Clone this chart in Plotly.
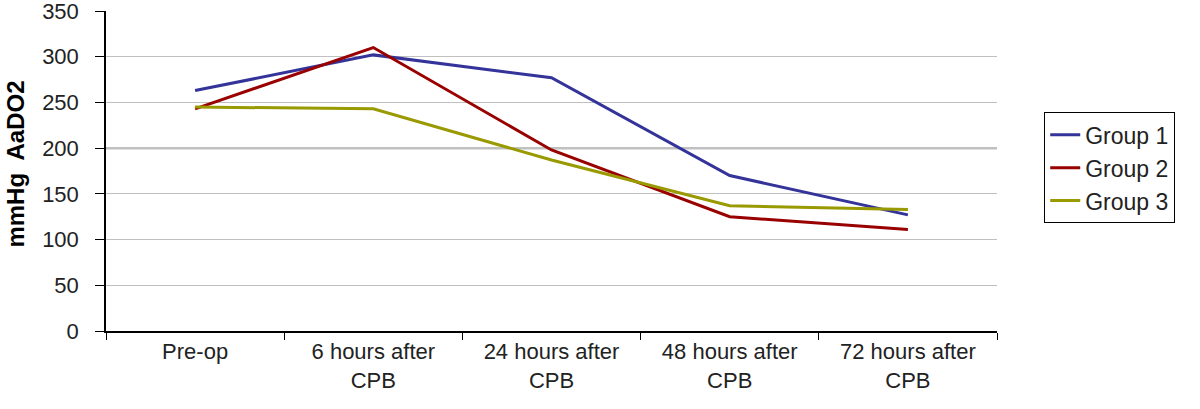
import plotly.graph_objects as go

categories = ["Pre-op", "6 hours after<br>CPB", "24 hours after<br>CPB", "48 hours after<br>CPB", "72 hours after<br>CPB"]
group1 = [263, 302, 277, 170, 127]
group2 = [243, 310, 198, 125, 111]
group3 = [245, 243, 187, 137, 133]
series_names = ["Group 1", "Group 2", "Group 3"]
colors = ["#333399", "#990000", "#999900"]

fig = go.Figure()
for name, vals, c in zip(series_names, [group1, group2, group3], colors):
    fig.add_trace(go.Scatter(x=categories, y=vals, mode="lines", name=name,
                             line=dict(color=c, width=3)))

fig.add_shape(type="line", xref="paper", x0=0, x1=1, yref="y", y0=200, y1=200,
              line=dict(color="#c0c0c0", width=2.5), layer="below")

fig.add_annotation(text="<b>mmHg  AaDO2</b>", textangle=-90, xref="paper", yref="paper",
                   x=-0.101, y=0.52, showarrow=False, xanchor="center", yanchor="middle",
                   font=dict(size=24, color="black"))

fig.update_layout(
    width=1200, height=409,
    margin=dict(l=106, r=203, t=11, b=78),
    paper_bgcolor="white", plot_bgcolor="white",
    font=dict(family="Liberation Sans, Arial, sans-serif", size=22, color="#222222"),
    showlegend=True,
    legend=dict(x=1.053, y=0.51, xanchor="left", yanchor="middle",
                bordercolor="black", borderwidth=1, bgcolor="white",
                font=dict(size=23), tracegroupgap=0),
    xaxis=dict(type="category", tickson="boundaries", ticks="outside", ticklen=7,
               tickcolor="black", showline=True, linecolor="black", linewidth=1.5,
               showgrid=False, range=[-0.5, 4.5], tickfont=dict(size=22),
               automargin=False),
    yaxis=dict(range=[0, 350], dtick=50, ticks="outside", ticklen=9, tickcolor="black",
               showline=True, linecolor="black", linewidth=1.5,
               showgrid=True, gridcolor="#c0c0c0", gridwidth=1,
               zeroline=False, tickfont=dict(size=22), ticklabelstandoff=12,
               ticklabeloverflow="allow", automargin=False),
)

fig.write_html("out.html", config={"displayModeBar": False},
               post_script="document.body.style.margin='0';")
